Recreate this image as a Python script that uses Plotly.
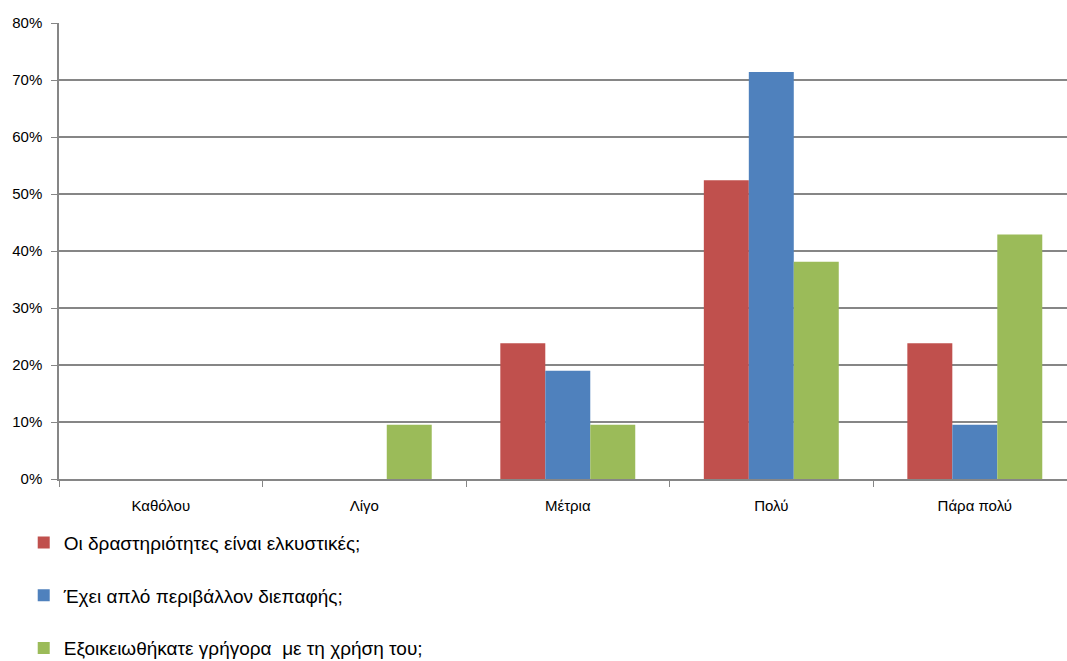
import plotly.graph_objects as go

categories = ["Καθόλου", "Λίγο", "Μέτρια", "Πολύ", "Πάρα πολύ"]
series_names = [
    "Οι δραστηριότητες είναι ελκυστικές;",
    "Έχει απλό περιβάλλον διεπαφής;",
    "Εξοικειωθήκατε γρήγορα  με τη χρήση του;",
]
red_values = [0.0, 0.0, 0.238, 0.524, 0.238]
blue_values = [0.0, 0.0, 0.190, 0.714, 0.095]
green_values = [0.0, 0.095, 0.095, 0.381, 0.429]
colors = ["#C0504D", "#4F81BD", "#9BBB59"]
y_ticks = [0, 0.1, 0.2, 0.3, 0.4, 0.5, 0.6, 0.7, 0.8]

fig = go.Figure()
for i, (name, vals, col) in enumerate(zip(series_names, [red_values, blue_values, green_values], colors)):
    fig.add_trace(go.Bar(x=categories, y=vals, name=name, marker=dict(color=col, line=dict(width=0)),
                         legendgroup=f"g{i}"))

fig.update_layout(
    width=1067, height=661,
    barmode="group", bargap=0.337, bargroupgap=0,
    plot_bgcolor="white", paper_bgcolor="white",
    margin=dict(l=59, r=0, t=23, b=182, autoexpand=False),
    font=dict(family="Liberation Sans, Arial, sans-serif", color="#000000"),
    legend=dict(orientation="v", x=-0.035, xanchor="left", y=-0.098, yanchor="top",
                font=dict(size=19), tracegroupgap=25, itemwidth=30),
    showlegend=True,
)
fig.update_xaxes(
    range=[-0.5, 4.453], showline=True, linecolor="#868686", linewidth=1.5,
    ticks="outside", tickson="boundaries", ticklen=6, tickcolor="#868686",
    tickfont=dict(size=15), showgrid=False, ticklabelstandoff=12,
)
fig.update_yaxes(
    range=[0, 0.8], tickvals=y_ticks, tickformat=".0%", showline=True, linecolor="#868686",
    linewidth=1.5, ticks="outside", ticklen=6, tickcolor="#868686", showgrid=True,
    gridcolor="#868686", gridwidth=1.5, tickfont=dict(size=15), zeroline=False,
    ticklabelstandoff=6,
)
fig.write_html("out.html")
